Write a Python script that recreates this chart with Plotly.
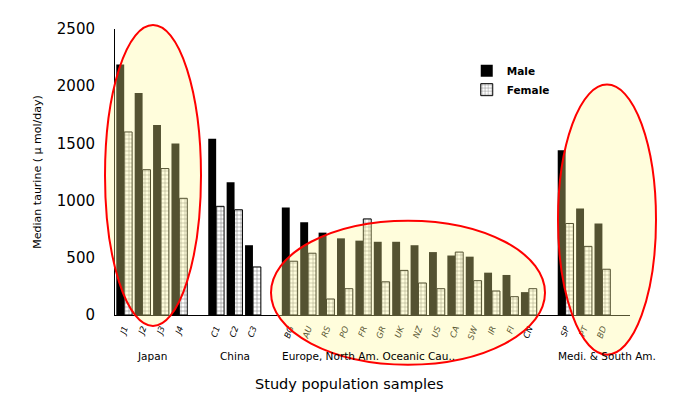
import plotly.graph_objects as go

# ---- data ----
group_names = ["Japan", "China", "Europe, North Am. Oceanic Cau..", "Medi. & South Am."]
japan_labels = ["J1", "J2", "J3", "J4"]
china_labels = ["C1", "C2", "C3"]
europe_labels = ["BG", "AU", "RS", "PO", "FR", "GR", "UK", "NZ", "US", "CA", "SW", "IR", "FI", "CN"]
medi_labels = ["SP", "PT", "BD"]

japan_male = [2190, 1940, 1660, 1500]
japan_female = [1600, 1270, 1280, 1020]
china_male = [1540, 1160, 610]
china_female = [950, 920, 420]
europe_male = [940, 810, 720, 670, 650, 640, 640, 610, 550, 520, 510, 370, 350, 200]
europe_female = [470, 540, 140, 230, 840, 290, 390, 280, 230, 550, 300, 210, 160, 230]
medi_male = [1440, 930, 800]
medi_female = [800, 600, 400]

groups = [
    (group_names[0], japan_labels, japan_male, japan_female),
    (group_names[1], china_labels, china_male, china_female),
    (group_names[2], europe_labels, europe_male, europe_female),
    (group_names[3], medi_labels, medi_male, medi_female),
]

# ---- build positions (one empty slot between groups) ----
xs, labels, male, female, group_starts = [], [], [], [], []
pos = 0
for name, labs, m, f in groups:
    group_starts.append((name, pos, pos + len(labs) - 1))
    for lab, mv, fv in zip(labs, m, f):
        xs.append(pos)
        labels.append(lab)
        male.append(mv)
        female.append(fv)
        pos += 1
    pos += 1
n_slots = pos - 1

FONT = "DejaVu Sans"

fig = go.Figure()
fig.add_trace(go.Bar(
    x=xs, y=male, name="Male",
    marker=dict(color="black", line=dict(color="black", width=0)),
))
fig.add_trace(go.Bar(
    x=xs, y=female, name="Female",
    marker=dict(color="white", line=dict(color="black", width=1),
                pattern=dict(shape="+", fgcolor="black", bgcolor="white",
                             size=4, solidity=0.25)),
))

fig.update_layout(
    width=682, height=397,
    margin=dict(l=107, r=60, t=19, b=90),
    paper_bgcolor="white", plot_bgcolor="white",
    barmode="group", bargap=0.14, bargroupgap=0,
    font=dict(family=FONT, color="black"),
    showlegend=True,
    legend=dict(x=0.683, y=0.905, xanchor="left", yanchor="top",
                bgcolor="rgba(0,0,0,0)", font=dict(size=10.5, weight="bold"),
                itemwidth=30, tracegroupgap=4),
)

fig.update_xaxes(
    range=[-0.5, n_slots + 0.5],
    tickmode="array", tickvals=xs, ticktext=labels,
    tickangle=-70, tickfont=dict(size=8.5, style="italic"),
    showline=True, linecolor="black", linewidth=1,
    showgrid=False, zeroline=False, ticks="outside", ticklen=4,
    tickcolor="rgba(0,0,0,0)",
    title=None,
)
fig.update_yaxes(
    range=[0, 2500], tickvals=[0, 500, 1000, 1500, 2000, 2500],
    tickfont=dict(size=15),
    showline=True, linecolor="black", linewidth=1,
    showgrid=False, zeroline=False,
    ticks="outside", ticklen=16, tickcolor="rgba(0,0,0,0)",
    title=dict(text="Median taurine ( \u03bc mol/day)", font=dict(size=11), standoff=12),
)

# group labels
for name, start, end in group_starts:
    if name in ("Japan", "China"):
        fig.add_annotation(x=(start + end) / 2, y=-0.145, xref="x", yref="paper",
                           text=name, showarrow=False, xanchor="center", yanchor="middle",
                           font=dict(size=10.5))
    else:
        fig.add_annotation(x=start - 0.55, y=-0.145, xref="x", yref="paper",
                           text=name, showarrow=False, xanchor="left", yanchor="middle",
                           font=dict(size=10.5))

fig.add_annotation(x=0.456, y=-0.24, xref="paper", yref="paper",
                   text="Study population samples", showarrow=False,
                   xanchor="center", yanchor="middle", font=dict(size=14.5))

# highlight ellipses (positions given in pixels of the 682x397 canvas -> paper units)
def px_x(p):
    return (p - 107) / 515

def px_y(p):
    return (307 - p) / 288

for (x0, y0, x1, y1) in [(97, 15, 193, 318), (263, 212, 537, 357), (550, 75, 648, 347)]:
    fig.add_shape(type="circle", xref="paper", yref="paper",
                  x0=px_x(x0), x1=px_x(x1), y0=px_y(y1), y1=px_y(y0),
                  line=dict(color="red", width=2),
                  fillcolor="rgba(255,250,150,0.33)", layer="above")

fig.write_html("out.html")
